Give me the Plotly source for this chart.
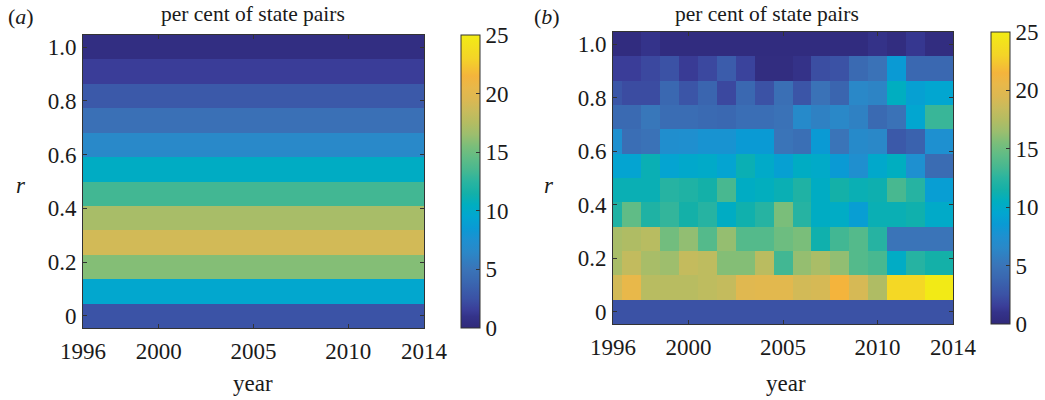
import plotly.graph_objects as go

W, H = 1045, 400

# ---------------- data ----------------
years = list(range(1996, 2015))                 # 19 columns
r_values = [k / 11 for k in range(12)]          # 12 rows, bottom -> top

# panel (a): per cent of state pairs per r level (constant over the years), bottom -> top
panel_a_levels = [2.6, 9.6, 15.8, 19.0, 17.0, 13.3, 10.3, 6.6, 4.7, 3.0, 1.5, 0.5]

# panel (b): one list per r row (bottom -> top), one value per year 1996..2014
b_r00 = [2.5] * 19
b_r01 = [19.0, 20.5, 17.7, 17.7, 17.7, 18.0, 18.3, 19.8, 20.0, 20.0, 19.0, 19.2, 21.5, 19.2, 17.3, 23.3, 23.3, 24.8, 24.8]
b_r02 = [17.0, 18.2, 17.0, 16.6, 18.3, 18.0, 15.8, 15.8, 17.8, 13.3, 16.3, 17.1, 16.2, 14.0, 13.5, 10.2, 12.3, 11.5, 11.5]
b_r03 = [17.0, 17.3, 17.7, 15.2, 16.2, 14.0, 16.3, 14.0, 14.0, 15.0, 15.5, 11.3, 13.3, 14.0, 12.3, 5.0, 5.0, 5.0, 5.0]
b_r04 = [12.0, 14.5, 12.0, 12.8, 11.5, 12.3, 10.3, 11.3, 12.3, 15.5, 12.3, 10.3, 10.2, 8.8, 11.0, 11.0, 11.3, 10.0, 10.0]
b_r05 = [11.0, 11.0, 11.0, 12.3, 12.0, 11.5, 13.5, 10.3, 10.6, 11.0, 12.0, 10.3, 11.5, 11.0, 11.2, 13.5, 12.3, 8.8, 8.8]
b_r06 = [9.3, 9.3, 11.0, 9.3, 9.8, 10.0, 9.3, 11.0, 10.0, 9.0, 10.3, 10.0, 8.5, 7.4, 9.8, 10.5, 7.5, 4.3, 4.3]
b_r07 = [7.5, 4.5, 4.8, 7.3, 7.4, 7.8, 7.8, 8.5, 8.5, 5.0, 4.6, 8.5, 5.0, 6.8, 6.5, 3.0, 3.6, 7.5, 7.5]
b_r08 = [4.2, 4.2, 5.2, 4.4, 4.4, 4.2, 4.0, 4.5, 4.5, 4.8, 6.8, 6.0, 6.5, 6.0, 4.2, 4.8, 9.5, 13.0, 13.0]
b_r09 = [2.8, 2.2, 2.2, 4.0, 2.7, 3.8, 2.0, 4.0, 2.5, 4.6, 2.7, 4.8, 3.8, 6.5, 6.2, 10.5, 9.0, 9.5, 9.5]
b_r10 = [1.5, 1.5, 2.0, 2.5, 1.4, 2.0, 3.2, 1.8, 0.4, 0.4, 0.9, 2.3, 2.5, 4.2, 4.8, 8.5, 4.0, 4.0, 4.0]
b_r11 = [0.3, 0.3, 1.0, 0.3, 0.3, 0.3, 0.3, 0.3, 0.3, 0.3, 0.3, 0.3, 0.3, 0.3, 0.9, 0.4, 1.2, 0.4, 0.4]

x_tick_vals = [1996, 2000, 2005, 2010, 2014]
y_tick_vals = [0, 0.2, 0.4, 0.6, 0.8, 1.0]
y_tick_text = ["0", "0.2", "0.4", "0.6", "0.8", "1.0"]
cbar_ticks = [0, 5, 10, 15, 20, 25]

# ---------------- style ----------------
ZMAX = 25
anchor_colors = [
    (0.0, "#30297a"), (1.0, "#34338a"), (1.5, "#3a3d98"), (2.5, "#3b52a5"),
    (4.0, "#3a68b1"), (5.0, "#3a74b8"), (6.5, "#2a88c8"), (7.5, "#1e90d0"),
    (8.5, "#0a9ad4"), (9.5, "#02a6d0"), (10.5, "#00aec0"), (11.5, "#14b0a8"),
    (12.5, "#2ab4a0"), (13.5, "#48b890"), (14.5, "#60bc86"), (15.5, "#7abe7a"),
    (16.5, "#9cbe6e"), (17.5, "#b4bc62"), (18.5, "#c8bb5c"), (19.5, "#dcb852"),
    (20.5, "#e8b84a"), (21.5, "#f4b43c"), (23.0, "#f4d428"), (25.0, "#f2ec14"),
]
colorscale = [[v / ZMAX, c] for v, c in anchor_colors]

FONT = "Liberation Serif, Times New Roman, serif"
TXT = "#1a1a1a"
LINE = "#333333"
TICKSIZE = 23


def px(x):
    return x / W


def py(y):
    return 1 - y / H


panel_a_z = [[lvl] * len(years) for lvl in panel_a_levels]
panel_b_z = [b_r00, b_r01, b_r02, b_r03, b_r04, b_r05, b_r06, b_r07, b_r08, b_r09, b_r10, b_r11]

panels = [
    dict(z=panel_a_z, xd=(83, 424), yd=(35, 328), cb=(461, 35, 293), ax=""),
    dict(z=panel_b_z, xd=(613, 953), yd=(32, 324), cb=(991, 32, 292), ax="2"),
]

fig = go.Figure()
for p in panels:
    cbx, cby, cblen = p["cb"]
    fig.add_trace(go.Heatmap(
        x=years, y=r_values, z=p["z"], zmin=0, zmax=ZMAX,
        colorscale=colorscale, xaxis="x" + p["ax"], yaxis="y" + p["ax"],
        colorbar=dict(
            x=px(cbx), xanchor="left", y=py(cby), yanchor="top",
            thickness=19, thicknessmode="pixels", len=cblen, lenmode="pixels",
            xpad=0, ypad=0, outlinewidth=1, outlinecolor=LINE,
            tickvals=cbar_ticks, ticks="inside", ticklen=4, tickcolor=LINE,
            tickfont=dict(family=FONT, size=TICKSIZE, color=TXT),
        ),
    ))

axis_common = dict(showline=True, linecolor=LINE, linewidth=1, mirror="ticks",
                   ticks="inside", ticklen=4, tickcolor=LINE, showgrid=False,
                   zeroline=False, automargin=False,
                   tickfont=dict(family=FONT, size=TICKSIZE, color=TXT))

layout = dict(width=W, height=H, margin=dict(l=0, r=0, t=0, b=0, autoexpand=False),
              paper_bgcolor="white", plot_bgcolor="white", showlegend=False)
for p in panels:
    layout["xaxis" + p["ax"]] = dict(
        domain=[px(p["xd"][0]), px(p["xd"][1])], range=[1996, 2014],
        tickvals=x_tick_vals, anchor="y" + p["ax"], ticklabelstandoff=2,
        **axis_common)
    layout["yaxis" + p["ax"]] = dict(
        domain=[py(p["yd"][1]), py(p["yd"][0])], range=[-1 / 22, 1 + 1 / 22],
        tickvals=y_tick_vals, ticktext=y_tick_text, anchor="x" + p["ax"],
        ticklabelstandoff=1, **axis_common)
fig.update_layout(**layout)

ann = []
def text(x, y, s, size=22, xanchor="center"):
    ann.append(dict(x=px(x), y=py(y), xref="paper", yref="paper", text=s,
                    showarrow=False, xanchor=xanchor, yanchor="middle",
                    font=dict(family=FONT, size=size, color=TXT)))

text(253, 14, "per cent of state pairs", size=21.5)
text(767, 14, "per cent of state pairs", size=21.5)
text(21, 16, "(<i>a</i>)", size=22)
text(547, 16, "(<i>b</i>)", size=22)
text(21, 185, "<i>r</i>", size=23)
text(549, 185, "<i>r</i>", size=23)
text(253, 383, "year", size=23)
text(786, 383, "year", size=23)
fig.update_layout(annotations=ann)

fig.write_html("out.html", config={"displayModeBar": False},
               post_script="document.body.style.margin='0';document.body.style.overflow='hidden';")
